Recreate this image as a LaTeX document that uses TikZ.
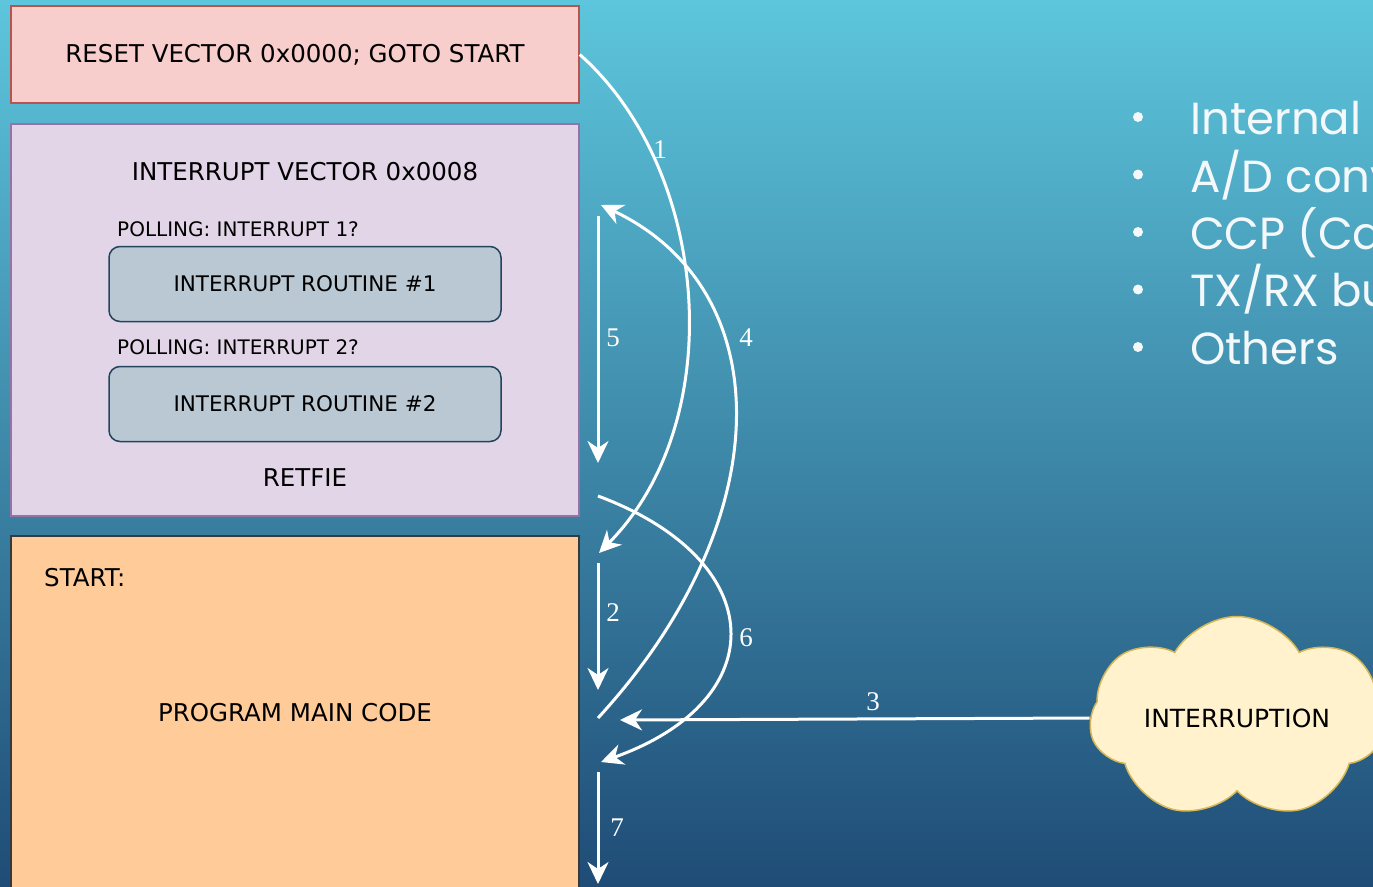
\documentclass[tikz,border=0pt]{standalone}
\usepackage{fontspec}
\usepackage{xcolor}
\newfontfamily\boxfont{DejaVu Sans}
\newfontfamily\listfont{Poppins}
\newfontfamily\numfont{Liberation Serif}
\usetikzlibrary{shapes,arrows.meta,positioning,calc}

\definecolor{bgtop}{HTML}{5DC6DC}
\definecolor{bgmid}{HTML}{52B4CE}
\definecolor{bgbot}{HTML}{1F4C76}
\definecolor{resetfill}{HTML}{F8CECC}
\definecolor{resetline}{HTML}{B85450}
\definecolor{vecfill}{HTML}{E1D5E7}
\definecolor{vecline}{HTML}{9673A6}
\definecolor{routinefill}{HTML}{BAC8D3}
\definecolor{routineline}{HTML}{23445D}
\definecolor{mainfill}{HTML}{FFCC99}
\definecolor{mainline}{HTML}{36393D}
\definecolor{cloudfill}{HTML}{FFF2CC}
\definecolor{cloudline}{HTML}{D6B656}
\definecolor{listtext}{HTML}{F4F8FA}

\begin{document}
\begin{tikzpicture}[
  x=1pt, y=-1pt,
  block/.style={rectangle, draw, line width=1.5pt, minimum width=568pt, font=\boxfont\fontsize{24.5}{28}\selectfont},
  routine/.style={rectangle, rounded corners=11pt, draw=routineline, fill=routinefill, line width=1.5pt, minimum width=392pt, minimum height=75pt, font=\boxfont\fontsize{21.5}{24}\selectfont},
  txt/.style={inner sep=0pt, font=\boxfont\fontsize{24.5}{28}\selectfont},
  poll/.style={anchor=west, inner sep=0pt, font=\boxfont\fontsize{20}{22}\selectfont},
  flow/.style={draw=white, line width=3pt, -{Stealth[length=22pt, width=21pt, inset=7pt]}},
  num/.style={text=white, inner sep=0pt, font=\numfont\fontsize{27}{28}\selectfont},
  dot/.style={circle, fill=listtext, minimum size=10pt, inner sep=0pt},
  item/.style={anchor=base west, inner sep=0pt, text=listtext, font=\listfont\fontsize{45}{50}\selectfont}
]

% background
\path[use as bounding box, clip] (0,0) rectangle (1373,886);
\shade[top color=bgtop, middle color=bgmid, bottom color=bgbot] (0,0) rectangle (1373,886);

% memory blocks
\node[block, draw=resetline, fill=resetfill, minimum height=97pt] (reset) at (295,54.5) {RESET VECTOR 0x0000; GOTO START};
\node[block, draw=vecline, fill=vecfill, minimum height=392pt] (ivec) at (295,320) {};
\node[block, draw=mainline, fill=mainfill, minimum height=364pt] (mainbox) at (295,718) {};

\node[txt] (ivtitle) at (305,172) {INTERRUPT VECTOR 0x0008};
\node[poll] (poll1) at (117,229) {POLLING: INTERRUPT 1?};
\node[routine] (isr1) at (305,284) {INTERRUPT ROUTINE \#1};
\node[poll] (poll2) at (117,347) {POLLING: INTERRUPT 2?};
\node[routine] (isr2) at (305,404) {INTERRUPT ROUTINE \#2};
\node[txt] (retfie) at (305,478) {RETFIE};

\node[txt, anchor=west] (start) at (44,578) {START:};
\node[txt] (maincode) at (295,713) {PROGRAM MAIN CODE};

% interrupt source
\node[cloud, cloud puffs=7, cloud puff arc=120, cloud ignores aspect, draw=cloudline, fill=cloudfill, line width=1.5pt, minimum width=295pt, minimum height=203pt, font=\boxfont\fontsize{25}{28}\selectfont] (interruption) at (1237,718) {INTERRUPTION};

% sources list
\foreach \txt [count=\i] in {Internal, A/D conv, CCP (Ca, TX/RX bu, Others} {
  \node[dot] (dot\i) at (1138,59.5+57.5*\i) {};
  \node[item] (item\i) at (1190,77.5+57.3*\i) {\txt};
}

% flow points
\coordinate (a1e) at (599,553);
\coordinate (a5s) at (598,216);
\coordinate (a5e) at (598,463);
\coordinate (a4s) at (598,718);
\coordinate (a4e) at (601,205);
\coordinate (a6s) at (598,496);
\coordinate (a6e) at (601,762);
\coordinate (a2s) at (598,563);
\coordinate (a2e) at (598,690);
\coordinate (a3e) at (620,720);
\coordinate (a7s) at (598,772);
\coordinate (a7e) at (598,884);

% execution flow
\draw[flow] (reset.east) .. controls (710,170) and (730,420) .. (a1e);
\draw[flow] (a2s) -- (a2e);
\draw[flow] (interruption.west) -- (a3e);
\draw[flow] (a4s) .. controls (780,520) and (780,290) .. (a4e);
\draw[flow] (a5s) -- (a5e);
\draw[flow] (a6s) .. controls (770,560) and (775,700) .. (a6e);
\draw[flow] (a7s) -- (a7e);

\node[num] (n1) at (660,150) {1};
\node[num] (n2) at (613,613) {2};
\node[num] (n3) at (873,702) {3};
\node[num] (n4) at (746,338) {4};
\node[num] (n5) at (613,338) {5};
\node[num] (n6) at (746,638) {6};
\node[num] (n7) at (617,828) {7};

\end{tikzpicture}
\end{document}
